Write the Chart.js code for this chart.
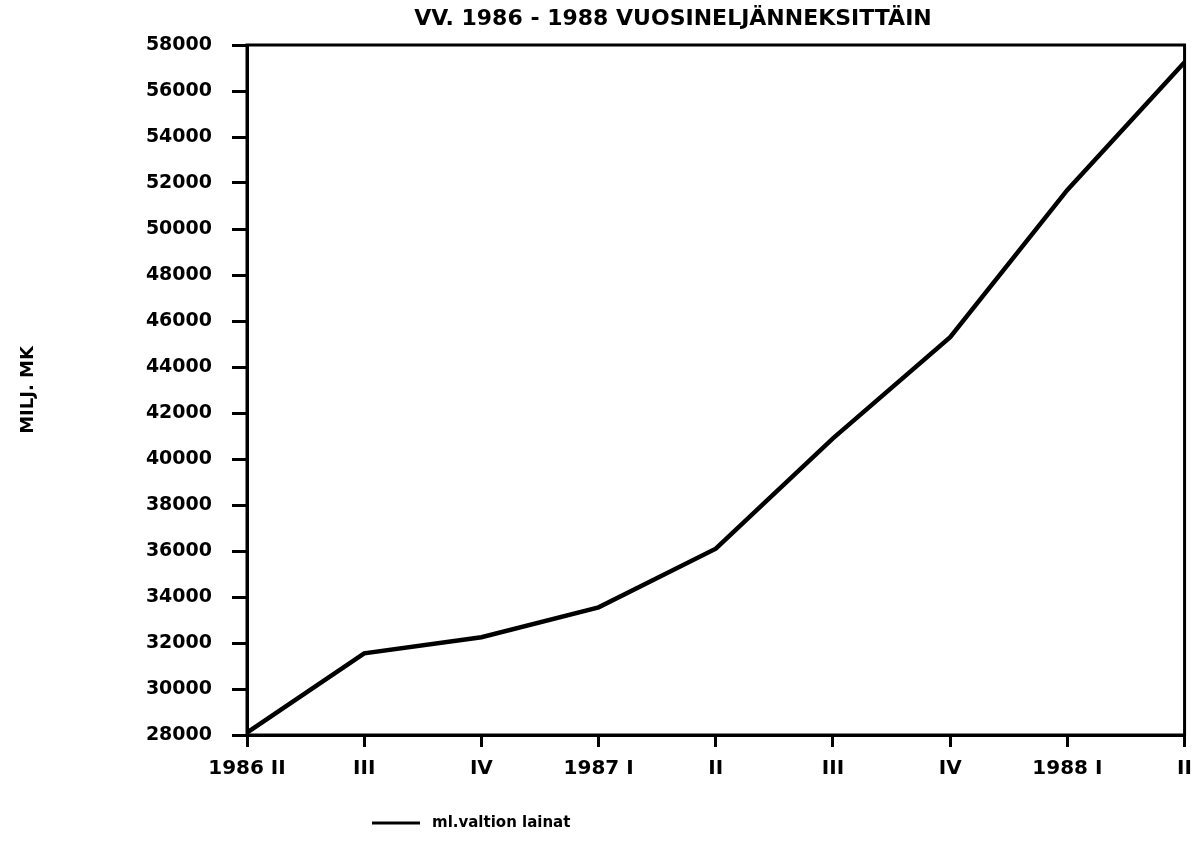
<!DOCTYPE html>
<html>
<head>
<meta charset="utf-8">
<script src="https://cdn.jsdelivr.net/npm/chart.js@4/dist/chart.umd.min.js"></script>
<style>
  html, body { margin: 0; padding: 0; background: #fff; }
  #wrap { width: 1202px; height: 860px; }
</style>
</head>
<body>
<div id="wrap"><canvas id="c" width="1202" height="860"></canvas></div>
<script>
const TITLE = "VV. 1986 - 1988 VUOSINELJÄNNEKSITTÄIN";
const Y_TITLE = "MILJ. MK";
const categories = ["1986 II", "III", "IV", "1987 I", "II", "III", "IV", "1988 I", "II"];
const seriesName = "ml.valtion lainat";
const seriesValues = [28100, 31550, 32250, 33550, 36100, 40900, 45300, 51700, 57250];
const yMin = 28000, yMax = 58000, yStep = 2000;

const FONT = "'DejaVu Sans', sans-serif";

const framePlugin = {
  id: 'frame',
  afterDraw(chart) {
    const {ctx, chartArea: a} = chart;
    ctx.save();
    ctx.strokeStyle = '#000';
    ctx.lineWidth = 3;
    ctx.strokeRect(a.left, a.top, a.right - a.left, a.bottom - a.top);
    // title
    ctx.fillStyle = '#000';
    ctx.font = "bold 22px " + FONT;
    ctx.textAlign = 'center';
    ctx.textBaseline = 'middle';
    ctx.fillText(TITLE, 673, 19);
    // legend
    const ds = chart.data.datasets[0];
    ctx.strokeStyle = ds.borderColor;
    ctx.lineWidth = 3;
    ctx.beginPath();
    ctx.moveTo(372, 823);
    ctx.lineTo(420, 823);
    ctx.stroke();
    ctx.font = "bold 15px " + FONT;
    ctx.textAlign = 'left';
    ctx.fillText(ds.label, 432, 823);
    ctx.restore();
  }
};

new Chart(document.getElementById('c'), {
  type: 'line',
  data: {
    labels: categories,
    datasets: [{
      label: seriesName,
      data: seriesValues,
      borderColor: '#000',
      backgroundColor: '#000',
      borderWidth: 4.5,
      pointRadius: 0,
      tension: 0
    }]
  },
  options: {
    responsive: false,
    animation: false,
    layout: { padding: { top: 45, right: 15, left: 0, bottom: 0 } },
    plugins: {
      legend: { display: false },
      title: { display: false },
      tooltip: { enabled: false }
    },
    scales: {
      x: {
        type: 'category',
        offset: false,
        grid: { drawOnChartArea: false, drawTicks: true, tickLength: 12, color: '#000', lineWidth: 3 },
        border: { display: true, color: '#000', width: 3 },
        ticks: { color: '#000', font: { family: FONT, size: 20, weight: 'bold' }, padding: 10, maxRotation: 0, autoSkip: false },
        afterFit(scale) { scale.height = 125; }
      },
      y: {
        min: yMin,
        max: yMax,
        grid: { drawOnChartArea: false, drawTicks: true, tickLength: 15, color: '#000', lineWidth: 3 },
        border: { display: true, color: '#000', width: 3 },
        ticks: { stepSize: yStep, color: '#000', font: { family: FONT, size: 19, weight: 'bold' }, padding: 20,
                 callback: v => String(v) },
        title: { display: true, text: Y_TITLE, color: '#000', font: { family: FONT, size: 18, weight: 'bold' }, padding: { top: 18, bottom: 0 } },
        afterFit(scale) { scale.width = 247; }
      }
    }
  },
  plugins: [framePlugin]
});
</script>
</body>
</html>
